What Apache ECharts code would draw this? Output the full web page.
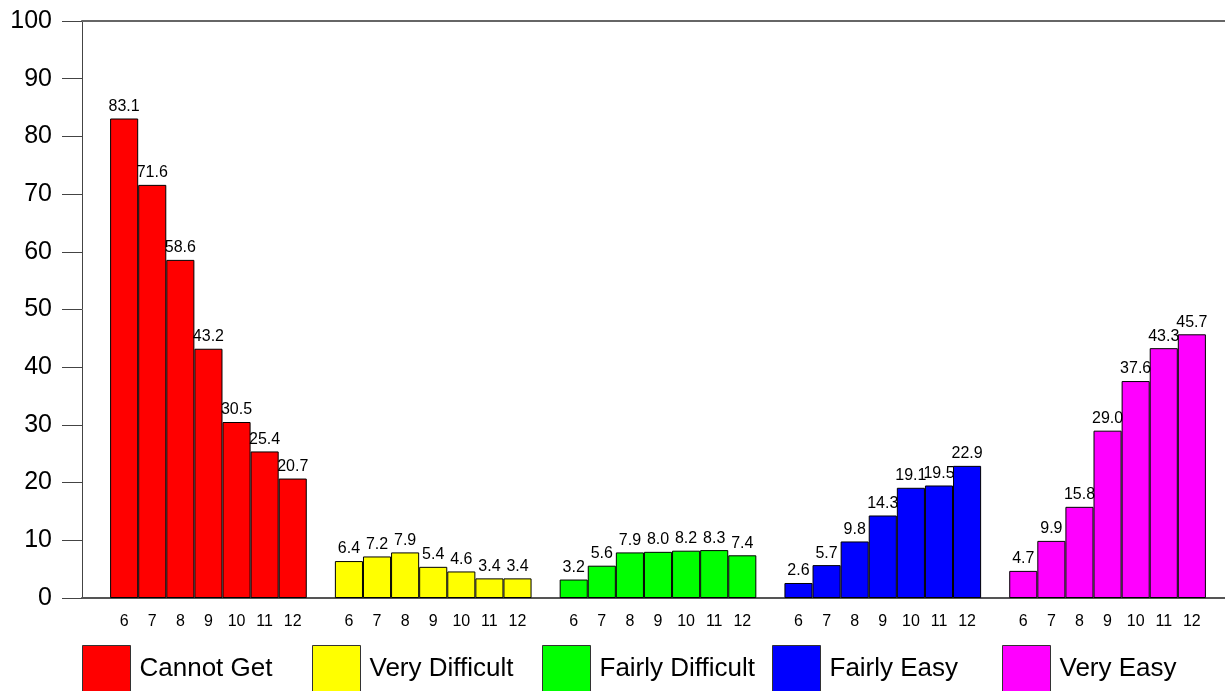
<!DOCTYPE html>
<html>
<head>
<meta charset="utf-8">
<script src="https://cdn.jsdelivr.net/npm/echarts@6/dist/echarts.min.js"></script>
<style>
  html, body { margin: 0; padding: 0; background: #fff; }
  #chart { width: 1225px; height: 691px; }
</style>
</head>
<body>
<div id="chart"></div>
<script>
// Survey responses by grade, one group of bars per response
const grades = ['6', '7', '8', '9', '10', '11', '12'];
const groupNames = ['Cannot Get', 'Very Difficult', 'Fairly Difficult', 'Fairly Easy', 'Very Easy'];
const groupColors = ['#ff0000', '#ffff00', '#00ff00', '#0000ff', '#ff00ff'];

const cannotGet       = [83.1, 71.6, 58.6, 43.2, 30.5, 25.4, 20.7];
const veryDifficult   = [6.4, 7.2, 7.9, 5.4, 4.6, 3.4, 3.4];
const fairlyDifficult = [3.2, 5.6, 7.9, 8.0, 8.2, 8.3, 7.4];
const fairlyEasy      = [2.6, 5.7, 9.8, 14.3, 19.1, 19.5, 22.9];
const veryEasy        = [4.7, 9.9, 15.8, 29.0, 37.6, 43.3, 45.7];

const yTicks = { min: 0, max: 100, interval: 10 };

const groups = [cannotGet, veryDifficult, fairlyDifficult, fairlyEasy, veryEasy];

// Category slots: one empty slot ahead of the first group and one after each group
const categories = [''];
groups.forEach(() => { grades.forEach(g => categories.push(g)); categories.push(' '); });

const FONT = 'Liberation Sans, Arial, sans-serif';

const series = groups.map((vals, gi) => {
  const data = categories.map(() => '-');
  vals.forEach((v, i) => { data[1 + gi * (grades.length + 1) + i] = v; });
  return {
    name: groupNames[gi],
    type: 'bar',
    stack: 'all',
    barWidth: '100%',
    data: data,
    itemStyle: { color: groupColors[gi], borderColor: '#000', borderWidth: 1 },
    label: {
      show: true,
      position: 'top',
      distance: 4,
      color: '#000',
      fontFamily: FONT,
      fontSize: 16,
      formatter: p => Number(p.value).toFixed(1)
    },
    emphasis: { disabled: true }
  };
});

const legendLeft = [82, 312, 542, 772, 1002];
const legends = groupNames.map((n, i) => ({
  data: [n],
  left: legendLeft[i],
  top: 645,
  padding: 0,
  itemWidth: 48,
  itemHeight: 46,
  itemGap: 0,
  icon: 'rect',
  itemStyle: { borderColor: '#333', borderWidth: 1 },
  selectedMode: false,
  textStyle: { fontFamily: FONT, fontSize: 26, color: '#000', padding: [0, 0, 0, 4] }
}));

const chart = echarts.init(document.getElementById('chart'), null, { renderer: 'canvas' });
chart.setOption({
  animation: false,
  backgroundColor: '#fff',
  grid: { left: 82, top: 21, width: 1152, height: 577, outerBoundsMode: 'none', containLabel: false },
  legend: legends,
  xAxis: [{
    type: 'category',
    data: categories,
    axisLine: { lineStyle: { color: '#555', width: 2 } },
    axisTick: { show: false },
    axisLabel: {
      interval: 0,
      margin: 16,
      color: '#000',
      fontFamily: FONT,
      fontSize: 16
    }
  }, {
    type: 'category',
    position: 'top',
    data: categories,
    axisLine: { lineStyle: { color: '#666', width: 2 } },
    axisTick: { show: false },
    axisLabel: { show: false }
  }],
  yAxis: {
    type: 'value',
    min: yTicks.min,
    max: yTicks.max,
    interval: yTicks.interval,
    axisLine: { show: true, lineStyle: { color: '#444', width: 1 } },
    axisTick: { show: true, length: 20, lineStyle: { color: '#444', width: 1 } },
    splitLine: { show: false },
    axisLabel: {
      margin: 30,
      color: '#000',
      fontFamily: FONT,
      fontSize: 25
    }
  },
  series: series
});
</script>
</body>
</html>
